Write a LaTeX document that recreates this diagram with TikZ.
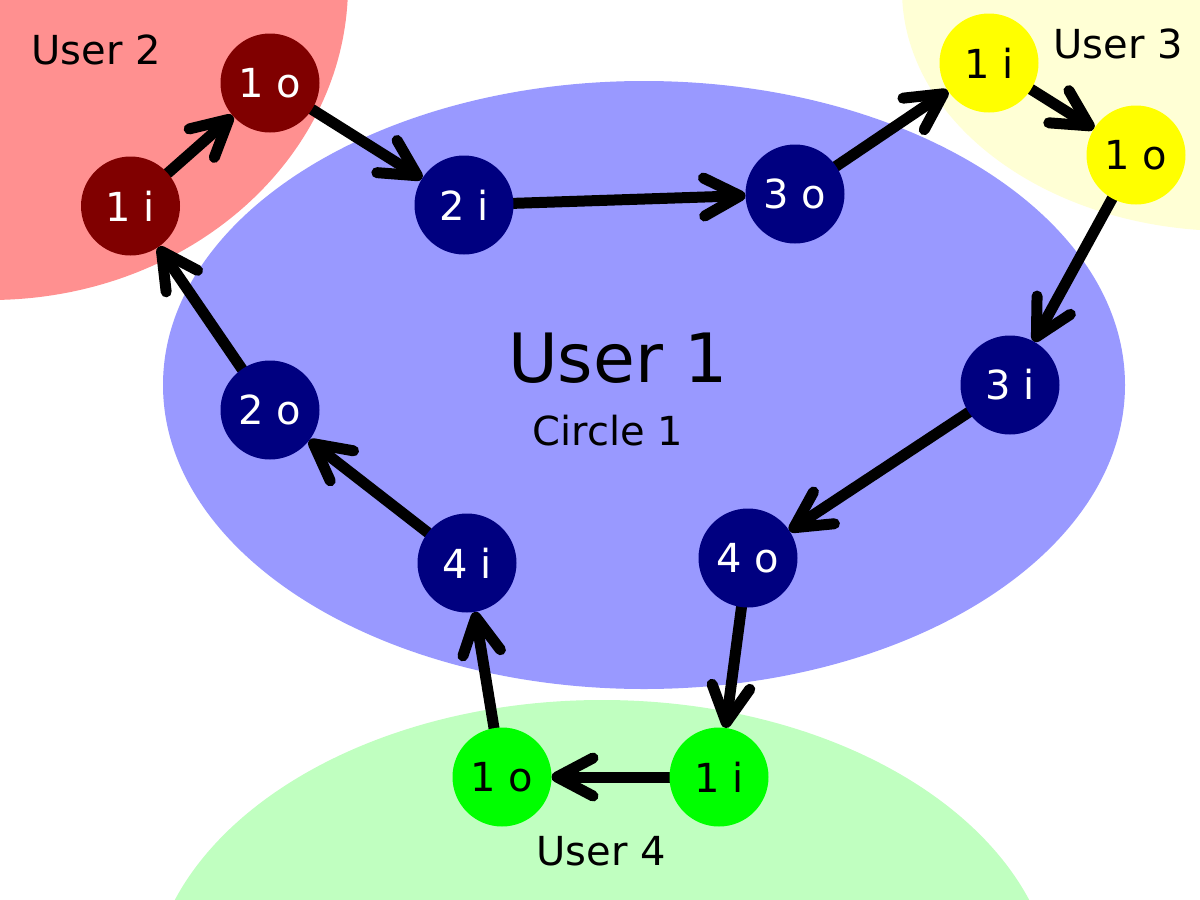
\documentclass[tikz,border=0pt]{standalone}
\usepackage{fontspec}
\setmainfont{DejaVu Sans}
\usetikzlibrary{arrows.meta}
\definecolor{redbg}{HTML}{FF9090}
\definecolor{bluebg}{HTML}{9999FF}
\definecolor{yellowbg}{HTML}{FFFFD5}
\definecolor{greenbg}{HTML}{C0FFC0}
\definecolor{rednode}{HTML}{800000}
\definecolor{bluenode}{HTML}{000080}
\definecolor{yellownode}{HTML}{FFFF00}
\definecolor{greennode}{HTML}{00FF00}
\pgfdeclarelayer{bg}
\pgfdeclarelayer{mid}
\pgfsetlayers{bg,mid,main}
\tikzset{
  port/.style={circle, inner sep=0pt, outer sep=0pt, minimum size=49.5pt,
    font=\fontsize{20}{24}\selectfont},
  redport/.style={port, fill=rednode, text=white},
  blueport/.style={port, fill=bluenode, text=white},
  yellowport/.style={port, fill=yellownode, text=black},
  greenport/.style={port, fill=greennode, text=black},
  label/.style={inner sep=0pt, font=\fontsize{20}{24}\selectfont},
  conn/.style={line width=5.5pt, line cap=round, line join=round,
    -{Straight Barb[length=18pt, width=19pt, round]}},
}
\begin{document}
\begin{tikzpicture}[x=0.5pt, y=-0.5pt]
\useasboundingbox (0,0) rectangle (1200,900);
\begin{pgfonlayer}{bg}
\begin{scope}
\clip (0,0) rectangle (1200,900);
\fill[white] (0,0) rectangle (1200,900);
\fill[redbg] (-10,-15) ellipse [x radius=179pt, y radius=157.5pt];
\fill[bluebg] (644,385) ellipse [x radius=240.5pt, y radius=152pt];
\fill[yellowbg] (1230,-10) ellipse [x radius=164pt, y radius=120.5pt];
\fill[greenbg] (602,1000) ellipse [x radius=226.5pt, y radius=150pt];
\end{scope}
\end{pgfonlayer}

% texts
\node[label] (u2) at (96,50) {User 2};
\node[label] (u3) at (1118,44) {User 3};
\node[label] (u4) at (601,851) {User 4};
\node[inner sep=0pt, font=\fontsize{34}{40}\selectfont] (u1) at (618,358) {User 1};
\node[label] (c1) at (608,431) {Circle 1};

% ports
\node[redport] (r1i) at (130.5,206) {1 i};
\node[redport] (r1o) at (270,83) {1 o};
\node[blueport] (b2i) at (464,205) {2 i};
\node[blueport] (b3o) at (795,194) {3 o};
\node[yellowport] (y1i) at (989,63) {1 i};
\node[yellowport] (y1o) at (1136,155) {1 o};
\node[blueport] (b3i) at (1010,385) {3 i};
\node[blueport] (b4o) at (748,558) {4 o};
\node[greenport] (g1i) at (719,777) {1 i};
\node[greenport] (g1o) at (502,777) {1 o};
\node[blueport] (b4i) at (467,563) {4 i};
\node[blueport] (b2o) at (270,410) {2 o};

\begin{pgfonlayer}{mid}
\draw[conn] (r1i) -- (r1o);
\draw[conn] (r1o) -- (b2i);
\draw[conn] (b2i) -- (b3o);
\draw[conn] (b3o) -- (y1i);
\draw[conn] (y1i) -- (y1o);
\draw[conn] (y1o) -- (b3i);
\draw[conn] (b3i) -- (b4o);
\draw[conn] (b4o) -- (g1i);
\draw[conn] (g1i) -- (g1o);
\draw[conn] (g1o) -- (b4i);
\draw[conn] (b4i) -- (b2o);
\draw[conn] (b2o) -- (r1i);
\end{pgfonlayer}
\end{tikzpicture}
\end{document}
